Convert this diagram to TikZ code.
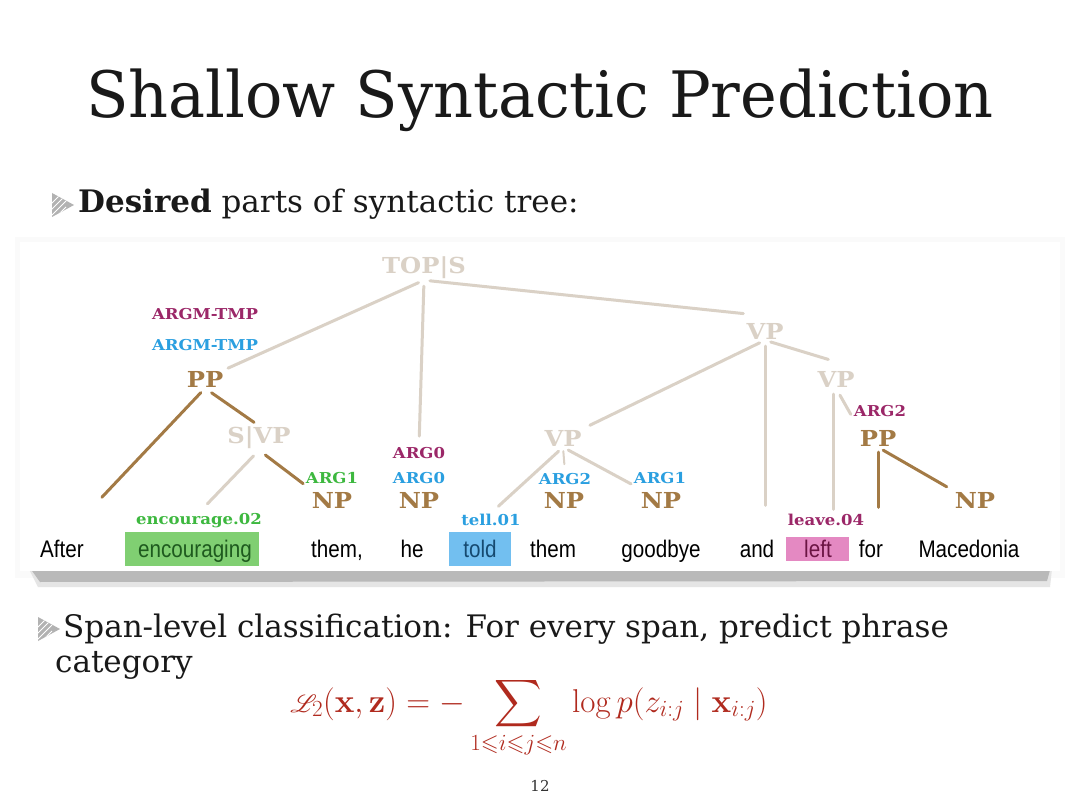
\RequirePackage{fix-cm}
\documentclass[tikz,border=0pt]{standalone}
\usepackage[no-math]{fontspec}
\usepackage{amssymb}
\usepackage{mathrsfs}
\setmainfont{DejaVu Serif}
\newfontfamily\titlefont[FakeStretch=0.97]{DejaVu Serif}
\newfontfamily\slidefont{DejaVu Serif}
\newfontfamily\tagfont[FakeStretch=1.1]{DejaVu Serif}
\newfontfamily\wordfont[FakeStretch=0.86]{Liberation Sans}
\definecolor{cMag}{HTML}{9B2768}
\definecolor{cBlue}{HTML}{2A9FE0}
\definecolor{cGreen}{HTML}{3DB83F}
\definecolor{cBrown}{HTML}{A37A45}
\definecolor{cBeige}{HTML}{DAD1C6}
\definecolor{cRed}{HTML}{B02A1E}
\definecolor{hlGreen}{HTML}{80CF72}
\definecolor{hlBlue}{HTML}{72BFF0}
\definecolor{hlPink}{HTML}{E489C2}
\definecolor{tGreen}{HTML}{1E5A1E}
\definecolor{tBlue}{HTML}{164A70}
\definecolor{tPink}{HTML}{6B1443}
\begin{document}
\begin{tikzpicture}[x=1pt,y=-1pt,
  tagM/.style={text=cMag, font=\tagfont\bfseries\fontsize{15}{15}\selectfont, inner sep=1pt},
  tagB/.style={tagM, text=cBlue},
  tagG/.style={tagM, text=cGreen},
  cat/.style={text=cBrown, font=\tagfont\bfseries\fontsize{22}{22}\selectfont, inner sep=1pt},
  catL/.style={cat, text=cBeige},
  word/.style={font=\wordfont\fontsize{24}{24}\selectfont, anchor=base, inner sep=0pt, text=black},
  bl/.style={draw=cBeige, line width=3pt, line cap=round},
  br/.style={draw=cBrown, line width=3pt, line cap=round},
  stext/.style={font=\slidefont\fontsize{31}{31}\selectfont, anchor=base west, inner sep=0pt, text=black!90}
]
\useasboundingbox (0,0) rectangle (1080,810);
\fill[white] (0,0) rectangle (1080,810);

% title
\node[font=\titlefont\fontsize{64}{64}\selectfont, anchor=base, inner sep=0pt, text=black!90] (title) at (540,118) {Shallow Syntactic Prediction};

% bullet 1
\begin{scope}
\clip (52,193) -- (74,205) -- (52,217) -- cycle;
\fill[gray!60] (50,190) rectangle (76,220);
\foreach \d in {0,6,12,18}{\draw[white, line width=1pt] (50,205+\d) -- (66,189+\d);}
\end{scope}
\node[stext] (b1) at (78,213) {\textbf{Desired} parts of syntactic tree:};

% panel
\fill[gray!4] (15,237) rectangle (1065,578);
\fill[gray!20] (28,567) -- (1052,569) -- (1050,587) -- (38,587) -- cycle;
\fill[gray!55] (30,568) -- (1050,570) -- (1047,581) -- (40,582) -- cycle;
\fill[white] (20,242) rectangle (1060,571);

% highlight boxes
\fill[hlGreen] (125,532) rectangle (259,566);
\fill[hlBlue] (449,532) rectangle (511,566);
\fill[hlPink] (786,537) rectangle (849,561);

% words
\node[word] (after) at (62,557) {After};
\node[word, text=tGreen] (encw) at (195,557) {encouraging};
\node[word] (them1) at (337,557) {them,};
\node[word] (he) at (412,557) {he};
\node[word, text=tBlue] (told) at (480,557) {told};
\node[word] (them2) at (553,557) {them};
\node[word] (goodbye) at (661,557) {goodbye};
\node[word] (and) at (757,557) {and};
\node[word, text=tPink] (leftw) at (818,557) {left};
\node[word] (forw) at (871,557) {for};
\node[word] (maced) at (969,557) {Macedonia};

% predicate labels
\node[tagG] (enc) at (199,521) {encourage.02};
\node[tagB] (tell) at (491,520) {tell.01};
\node[tagM] (leave) at (826,520) {leave.04};

% tree nodes
\node[catL] (top) at (424,268) {TOP|S};
\node[tagM] (argmt1) at (205,314) {ARGM-TMP};
\node[tagB] (argmt2) at (205,345) {ARGM-TMP};
\node[cat] (pp) at (205,379) {PP};
\node[catL] (svp) at (259,438) {S|VP};
\node[tagG] (arg1g) at (332,478) {ARG1};
\node[cat] (np1) at (332,500) {NP};
\node[tagM] (arg0m) at (419,453) {ARG0};
\node[tagB] (arg0b) at (419,478) {ARG0};
\node[cat] (np2) at (419,500) {NP};
\node[catL] (vp1) at (765,331) {VP};
\node[catL] (vp2) at (563,438) {VP};
\node[tagB] (arg2b) at (565,479) {ARG2};
\node[cat] (np3) at (564,500) {NP};
\node[tagB] (arg1b) at (660,478) {ARG1};
\node[cat] (np4) at (661,500) {NP};
\node[catL] (vp3) at (836,379) {VP};
\node[tagM] (arg2m) at (880,411) {ARG2};
\node[cat] (pp2) at (878,438) {PP};
\node[cat] (np5) at (975,500) {NP};

% edges
\draw[bl, shorten <=6pt, shorten >=4pt] (top.south) -- (pp.north east);
\draw[bl, shorten <=6pt, shorten >=10pt] (top.south) -- (arg0m.north);
\draw[bl, shorten <=6pt, shorten >=2pt] (top.south) -- ([yshift=8pt]vp1.north west);
\draw[br, shorten <=6pt, shorten >=58pt] (pp.south) -- (after.north);
\draw[br, shorten <=8pt, shorten >=6pt] (pp.south) -- (svp.north);
\draw[bl, shorten <=8pt, shorten >=12pt] (svp.south) -- (enc.north);
\draw[br, shorten <=8pt, shorten >=2pt] (svp.south) -- (arg1g.south west);
\draw[bl, shorten <=6pt, shorten >=8pt] (vp1.south) -- (vp2.north east);
\draw[bl, shorten <=6pt, shorten >=34pt] (vp1.south) -- (vp1.south |- and.north);
\draw[bl, shorten <=6pt, shorten >=8pt] (vp1.south) -- ([yshift=8pt]vp3.north);
\draw[bl, shorten <=6pt, shorten >=30pt] ([xshift=-3pt]vp3.south) -- ([xshift=-3pt]vp3.south |- leftw.north);
\draw[bl, shorten <=8pt, shorten >=4pt] (vp3.south) -- (arg2m.south west);
\draw[bl, shorten <=6pt, shorten >=10pt] (vp2.south) -- (tell.north);
\draw[bl, shorten <=6pt, shorten >=2pt] (vp2.south) -- (arg1b.south west);
\draw[bl, line width=2pt, shorten <=4pt, shorten >=8pt] (vp2.south) -- (arg2b.north);
\draw[br, shorten <=5pt, shorten >=32pt] (pp2.south) -- (pp2.south |- forw.north);
\draw[br, shorten <=6pt, shorten >=8pt] (pp2.south) -- (np5.north west);

% bullet 2
\begin{scope}
\clip (38,617) -- (60,629) -- (38,641) -- cycle;
\fill[gray!60] (36,614) rectangle (62,644);
\foreach \d in {0,6,12,18}{\draw[white, line width=1pt] (36,629+\d) -- (52,613+\d);}
\end{scope}
\node[stext] (b2a) at (63,637) {Span-level classification: For every span, predict phrase};
\node[stext] (b2b) at (55,672) {category};

% formula
\node[text=cRed, font=\fontsize{33}{40}\selectfont, inner sep=0pt] (formula) at (529,718)
  {$\displaystyle \mathscr{L}_2(\mathbf{x},\mathbf{z}) = -\sum_{1\leqslant i\leqslant j\leqslant n}\log p(z_{i:j}\mid \mathbf{x}_{i:j})$};

% page number
\node[font=\slidefont\fontsize{15}{15}\selectfont, text=black!80, inner sep=0pt] (pnum) at (540,786) {12};
\end{tikzpicture}
\end{document}
